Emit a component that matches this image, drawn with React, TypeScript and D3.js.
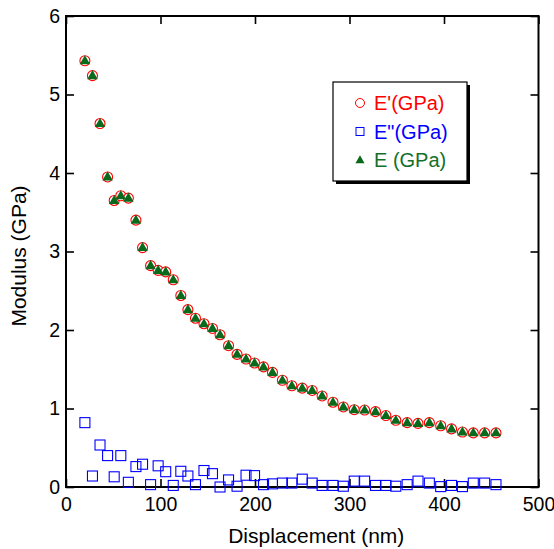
import React, { useEffect, useRef } from 'react';
import * as d3 from 'd3';

// values
const displacement = [
  20, 28, 36, 44, 51, 58, 66, 74, 81, 89.5, 97.5, 105.5, 113.5, 121.5, 129, 137,
  146, 155, 163, 172, 181, 190.5, 199.5, 209, 218.5, 229, 239, 250, 260.5, 271,
  282.5, 293.5, 305, 316, 327.5, 338.5, 349, 361, 372.5, 384.5, 396.5, 408,
  419.5, 431, 443, 455,
];

const storageModulus = [
  5.43, 5.24, 4.63, 3.95, 3.65, 3.71, 3.68, 3.4, 3.05, 2.82, 2.76, 2.74, 2.64,
  2.44, 2.26, 2.15, 2.08, 2.02, 1.94, 1.8, 1.69, 1.63, 1.58, 1.53, 1.46, 1.36,
  1.29, 1.26, 1.23, 1.16, 1.08, 1.02, 0.985, 0.98, 0.96, 0.91, 0.85, 0.82, 0.81,
  0.82, 0.78, 0.74, 0.7, 0.69, 0.69, 0.69,
];

const lossModulus = [
  0.82, 0.14, 0.535, 0.4, 0.13, 0.4, 0.06, 0.26, 0.29, 0.03, 0.27, 0.195, 0.02,
  0.2, 0.14, 0.03, 0.21, 0.17, 0.0, 0.09, 0.01, 0.15, 0.145, 0.03, 0.04, 0.05,
  0.05, 0.1, 0.05, 0.02, 0.02, 0.01, 0.075, 0.075, 0.02, 0.02, 0.01, 0.03, 0.075,
  0.05, 0.005, 0.02, 0.005, 0.05, 0.05, 0.03,
];

const youngModulus = [
  5.43, 5.24, 4.63, 3.95, 3.65, 3.71, 3.68, 3.4, 3.05, 2.82, 2.76, 2.74, 2.64,
  2.44, 2.26, 2.15, 2.08, 2.02, 1.94, 1.8, 1.69, 1.63, 1.58, 1.53, 1.46, 1.36,
  1.29, 1.26, 1.23, 1.16, 1.08, 1.02, 0.985, 0.98, 0.96, 0.91, 0.85, 0.82, 0.81,
  0.82, 0.78, 0.74, 0.7, 0.69, 0.69, 0.69,
];

const xTicks = [0, 100, 200, 300, 400, 500];
const yTicks = [0, 1, 2, 3, 4, 5, 6];

const legendItems = [
  { label: "E'(GPa)", color: '#ff0000', shape: 'circle' },
  { label: 'E"(GPa)', color: '#0000ff', shape: 'square' },
  { label: 'E (GPa)', color: '#12702a', shape: 'triangle' },
];

const font = "'Liberation Sans', Arial, Helvetica, sans-serif";
const green = '#0a6a1c';

const App = () => {
  const svgRef = useRef<SVGSVGElement>(null);

  useEffect(() => {
    const svg = d3.select(svgRef.current);
    svg.selectAll('*').remove();

    const width = 554;
    const height = 549;
    const margin = { top: 16, right: 15.5, bottom: 62, left: 66 };

    const x = d3.scaleLinear().domain([0, 500]).range([margin.left, width - margin.right]);
    const y = d3.scaleLinear().domain([0, 6]).range([height - margin.bottom, margin.top]);

    const x0 = x.range()[0], x1 = x.range()[1];
    const y0 = y.range()[0], y1 = y.range()[1];

    // axes, ticks pointing inwards
    const styleAxis = (g: any) => {
      g.select('.domain').remove();
      g.selectAll('line').attr('stroke', '#000').attr('stroke-width', 1.6);
      g.selectAll('text')
        .attr('font-family', font)
        .attr('font-size', 19.5)
        .attr('fill', '#000');
    };

    const intFormat = d3.format('d');

    svg.append('g')
      .attr('transform', `translate(0,${y0})`)
      .call(d3.axisBottom(x).tickValues(xTicks).tickFormat(intFormat).tickSizeInner(-8).tickSizeOuter(0).tickPadding(10))
      .call(styleAxis);

    svg.append('g')
      .attr('transform', `translate(${x0},0)`)
      .call(d3.axisLeft(y).tickValues(yTicks).tickFormat(intFormat).tickSizeInner(-8).tickSizeOuter(0).tickPadding(6))
      .call(styleAxis);

    svg.append('g')
      .attr('transform', `translate(0,${y1})`)
      .call(d3.axisTop(x).tickValues(xTicks).tickSizeInner(-8).tickSizeOuter(0).tickFormat(() => ''))
      .call(styleAxis);

    svg.append('g')
      .attr('transform', `translate(${x1},0)`)
      .call(d3.axisRight(y).tickValues(yTicks).tickSizeInner(-8).tickSizeOuter(0).tickFormat(() => ''))
      .call(styleAxis);

    // frame
    svg.append('rect')
      .attr('x', x0)
      .attr('y', y1)
      .attr('width', x1 - x0)
      .attr('height', y0 - y1)
      .attr('fill', 'none')
      .attr('stroke', '#000')
      .attr('stroke-width', 2);

    const triangle = d3.symbol().type(d3.symbolTriangle).size(48);

    // E'' squares
    svg.append('g')
      .selectAll('rect')
      .data(displacement)
      .join('rect')
      .attr('x', (d) => x(d) - 5)
      .attr('y', (d, i) => y(lossModulus[i]) - 5)
      .attr('width', 10)
      .attr('height', 10)
      .attr('fill', 'none')
      .attr('stroke', '#0000ff')
      .attr('stroke-width', 1.1);

    // E' circles
    svg.append('g')
      .selectAll('circle')
      .data(displacement)
      .join('circle')
      .attr('cx', (d) => x(d))
      .attr('cy', (d, i) => y(storageModulus[i]))
      .attr('r', 5)
      .attr('fill', '#fff')
      .attr('stroke', '#ff0000')
      .attr('stroke-width', 1.1);

    // E triangles
    svg.append('g')
      .selectAll('path')
      .data(displacement)
      .join('path')
      .attr('d', triangle)
      .attr('transform', (d, i) => `translate(${x(d)},${y(youngModulus[i]) + 0.5})`)
      .attr('fill', green);

    // legend
    const lg = svg.append('g').attr('transform', 'translate(333,82)');
    const lw = 134, lh = 99;
    lg.append('rect')
      .attr('x', 3).attr('y', 3).attr('width', lw).attr('height', lh)
      .attr('fill', '#000');
    lg.append('rect')
      .attr('width', lw).attr('height', lh)
      .attr('fill', '#fff').attr('stroke', '#000').attr('stroke-width', 1.2);

    legendItems.forEach((item, i) => {
      const cy = 21 + i * 28.5;
      if (item.shape === 'circle') {
        lg.append('circle').attr('cx', 27).attr('cy', cy).attr('r', 4.5)
          .attr('fill', 'none').attr('stroke', item.color).attr('stroke-width', 1);
      } else if (item.shape === 'square') {
        lg.append('rect').attr('x', 23).attr('y', cy - 4).attr('width', 8).attr('height', 8)
          .attr('fill', 'none').attr('stroke', item.color).attr('stroke-width', 1);
      } else {
        lg.append('path').attr('d', d3.symbol().type(d3.symbolTriangle).size(36)())
          .attr('transform', `translate(27,${cy + 0.5})`).attr('fill', green);
      }
      lg.append('text')
        .attr('x', 41)
        .attr('y', cy + 7)
        .attr('font-family', font)
        .attr('font-size', 20)
        .attr('fill', item.color)
        .text(item.label);
    });

    // axis titles
    svg.append('text')
      .attr('x', (x0 + x1) / 2 + 14)
      .attr('y', 543)
      .attr('text-anchor', 'middle')
      .attr('font-family', font)
      .attr('font-size', 21)
      .text('Displacement (nm)');

    svg.append('text')
      .attr('transform', 'rotate(-90)')
      .attr('x', -256)
      .attr('y', 26)
      .attr('text-anchor', 'middle')
      .attr('font-family', font)
      .attr('font-size', 21)
      .text('Modulus (GPa)');
  }, []);

  return (
    <div style={{ position: 'absolute', left: 0, top: 0 }}>
      <svg ref={svgRef} width={554} height={549} style={{ display: 'block', background: '#fff' }} />
    </div>
  );
};

export default App;
